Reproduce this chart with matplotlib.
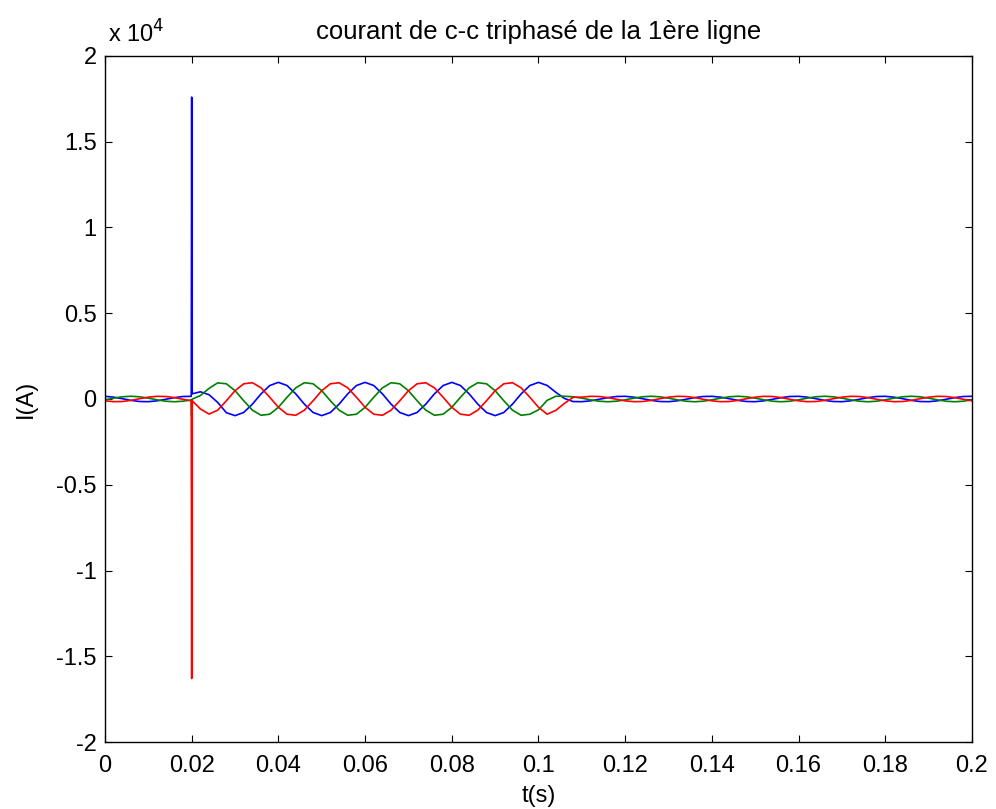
import numpy as np
import matplotlib.pyplot as plt
from matplotlib.ticker import FuncFormatter

# sample times (ms): regular 2 ms grid, plus two extra points around the fault spike
t_grid_ms = np.arange(0, 201, 2)
t_extra_ms = [19.9, 20.1]

# phase currents (A), one value per grid time
i_blue = [
    156, 107, 17, -80, -146, -156, -107, -17, 80, 146,
    17600, 420, 250, -200, -800, -970, -785, -300, 300, 785,
    970, 785, 300, -300, -785, -970, -785, -300, 300, 785,
    970, 785, 300, -300, -785, -970, -785, -300, 300, 785,
    970, 785, 300, -300, -785, -970, -785, -300, 300, 785,
    970, 790, 390, 30, -150, -156, -107, -17, 80, 146,
    156, 107, 17, -80, -146, -156, -107, -17, 80, 146,
    156, 107, 17, -80, -146, -156, -107, -17, 80, 146,
    156, 107, 17, -80, -146, -156, -107, -17, 80, 146,
    156, 107, 17, -80, -146, -156, -107, -17, 80, 146,
    156,
]
i_green = [
    -49, 49, 129, 160, 129, 49, -49, -129, -160, -129,
    -1000, 200, 620, 940, 887, 485, -102, -649, -949, -887,
    -485, 102, 649, 949, 887, 485, -102, -649, -949, -887,
    -485, 102, 649, 949, 887, 485, -102, -649, -949, -887,
    -485, 102, 649, 949, 887, 485, -102, -649, -949, -887,
    -630, -80, 160, 160, 130, 49, -49, -129, -160, -129,
    -49, 49, 129, 160, 129, 49, -49, -129, -160, -129,
    -49, 49, 129, 160, 129, 49, -49, -129, -160, -129,
    -49, 49, 129, 160, 129, 49, -49, -129, -160, -129,
    -49, 49, 129, 160, 129, 49, -49, -129, -160, -129,
    -49,
]
i_red = [
    -107, -156, -146, -80, 17, 107, 156, 146, 80, -17,
    -16300, -580, -880, -650, -102, 485, 887, 949, 649, 102,
    -485, -887, -949, -649, -102, 485, 887, 949, 649, 102,
    -485, -887, -949, -649, -102, 485, 887, 949, 649, 102,
    -485, -887, -949, -649, -102, 485, 887, 949, 649, 102,
    -485, -887, -660, -250, 100, 107, 156, 146, 80, -17,
    -107, -156, -146, -80, 17, 107, 156, 146, 80, -17,
    -107, -156, -146, -80, 17, 107, 156, 146, 80, -17,
    -107, -156, -146, -80, 17, 107, 156, 146, 80, -17,
    -107, -156, -146, -80, 17, 107, 156, 146, 80, -17,
    -107,
]
i_blue_extra = [155, 300]
i_green_extra = [-55, -10]
i_red_extra = [-103, -100]

title = "courant de c-c triphasé de la 1ère ligne"
x_ticks = [0, 0.02, 0.04, 0.06, 0.08, 0.1, 0.12, 0.14, 0.16, 0.18, 0.2]
y_ticks = [-20000, -15000, -10000, -5000, 0, 5000, 10000, 15000, 20000]

plt.rcParams["font.family"] = ["Liberation Sans", "DejaVu Sans"]

t_all = np.concatenate([t_grid_ms, t_extra_ms]) / 1000.0
order = np.argsort(t_all)
t_all = t_all[order]

fig = plt.figure(figsize=(9.96, 8.09), dpi=100)
ax = fig.add_axes([0.1054, 0.0828, 0.8705, 0.8480])

for vals, extra, color in [
    (i_blue, i_blue_extra, (0, 0, 1)),
    (i_green, i_green_extra, (0, 0.5, 0)),
    (i_red, i_red_extra, (1, 0, 0)),
]:
    y = np.concatenate([vals, extra])[order]
    ax.plot(t_all, y, color=color, lw=1.2)

ax.set_xlim(0, 0.2)
ax.set_ylim(-20000, 20000)
ax.set_xticks(x_ticks)
ax.set_yticks(y_ticks)
ax.xaxis.set_major_formatter(FuncFormatter(lambda v, p: f"{v:g}"))
ax.yaxis.set_major_formatter(FuncFormatter(lambda v, p: f"{v / 1e4:g}"))
ax.tick_params(direction="in", top=True, right=True, length=5, labelsize=17, pad=6)
ax.tick_params(axis="x", pad=9)
for sp in ax.spines.values():
    sp.set_linewidth(1.0)

ax.text(0.003, 1.012, r"x 10$^4$", transform=ax.transAxes, fontsize=17, va="bottom")
ax.set_title(title, fontsize=18.5, pad=12)
ax.set_xlabel("t(s)", fontsize=17, labelpad=6)
ax.set_ylabel("I(A)", fontsize=17, labelpad=14)

fig.savefig("out.png", dpi=100)
